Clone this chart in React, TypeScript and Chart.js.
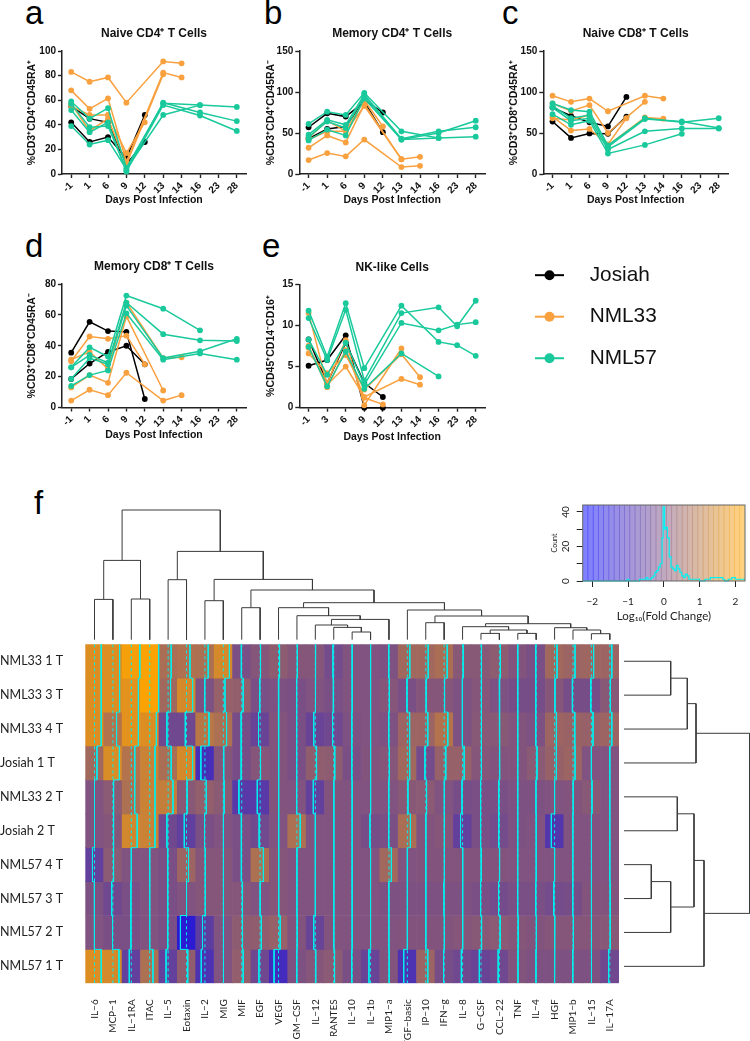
import React, { useEffect, useRef } from "react";
import { Chart, registerables } from "chart.js";

Chart.register(...registerables);
Chart.defaults.font.family = "'Liberation Sans', Arial, sans-serif";

const BLACK = "#000000";
const ORANGE = "#F9A03F";
const GREEN = "#19C99B";
const N = null;

const days = ["-1", "1", "6", "9", "12", "13", "14", "16", "23", "28"];
const daysE = ["-1", "3", "6", "9", "12", "13", "14", "16", "23", "28"];

const aBlack = [[55, 45, 42, 8, 26, N, N, N, N, N], [42, 26, 30, 13, 48, N, N, N, N, N]];
const aOrange = [
  [83, 75, 78.5, 58, N, 91.5, 90, N, N, N],
  [68, 53, 61.5, 10, N, 82.5, 78.5, N, N, N],
  [55, 48, 48, 17, 42, N, N, N, N, N],
  [57, 35, 45, 8, N, 81, N, N, N, N],
];
const aGreen = [
  [59, 45, 53.5, 5, N, 57.5, N, 56, N, 54.5],
  [57, 38, 39, 3, N, 58, N, 50, N, 43],
  [52, 34, 42, 2, N, 56, N, 47.5, N, 35],
  [39, 24, 27.5, 4, N, 48, N, 56, N, N],
];

const bBlack = [[57, 74, 70, 88, 51, N, N, N, N, N], [43, 55, 58, 90, 75, N, N, N, N, N]];
const bOrange = [
  [17, 25.5, 21.5, 42, N, 8.5, 10, N, N, N],
  [32, 47, 38.5, 85, N, 18, 21, N, N, N],
  [42, 52, 52, 90, 58, N, N, N, N, N],
  [44, 65, 52, 83, N, 18, N, N, N, N],
];
const bGreen = [
  [61, 76, 72, 99, N, 52, N, 44, N, 45.5],
  [48, 66, 60, 97, N, 43, N, 52, N, 57],
  [45, 64, 56, 95, N, 42, N, 50, N, 65],
  [41, 54, 47, 92, N, 42, N, 44, N, N],
];

const cBlack = [[64, 44, 49.5, 49, 70, N, N, N, N, N], [81, 71, 63, 58, 94, N, N, N, N, N]];
const cOrange = [
  [95.5, 88, 92, 76.5, N, 95.5, 92, N, N, N],
  [86, 77, 84, 50, N, 88, N, N, N, N],
  [70, 53, 55, 36, 68, N, N, N, N, N],
  [68, 66, 72, 35, N, 69, 67.5, N, N, N],
];
const cGreen = [
  [86, 78, 76, 35, N, 68, N, 63, N, 68],
  [83, 68, 72, 33, N, 67, N, 64, N, 56],
  [81, 65, 68, 30, N, 52, N, 55.5, N, 55.5],
  [73, 60, 65, 25, N, 35.5, N, 49, N, N],
];

const dBlack = [[35.5, 55.5, 49.5, 49, 5.5, N, N, N, N, N], [18.5, 28.5, 36, 40, 28, N, N, N, N, N]];
const dOrange = [
  [4.5, 11.5, 8, 22.5, N, 4.5, 8, N, N, N],
  [13, 21, 16, 59, N, 11, N, N, N, N],
  [30, 46, 44.5, 46.5, 28, N, N, N, N, N],
  [31, 36, 25, 68, N, 32, 32.5, N, N, N],
];
const dGreen = [
  [26, 39, 33, 72.5, N, 64, N, 50, N, N],
  [26, 34, 29, 68, N, 47.5, N, 43.5, N, 43],
  [18.5, 32, 28, 66, N, 32, N, 36.5, N, 44.5],
  [14, 21, 24, 61, N, 31, N, 35, N, 31],
];

const eBlack = [[5.1, 5.8, 8.8, 0, 0, N, N, N, N, N], [8.3, 3, 7.9, 3, 1.3, N, N, N, N, N]];
const eOrange = [
  [11.5, 2.8, 5, 1.3, N, 3.5, 2.8, N, N, N],
  [7.5, 2.5, 7, 1.2, 0.4, N, N, N, N, N],
  [6.6, 4.2, 6.4, 2.2, N, 6.5, 3.7, N, N, N],
  [7.3, 3, 8.2, 0.3, N, 7.2, N, N, N, N],
];
const eGreen = [
  [11.8, 6.2, 12.7, 4.8, N, 12.4, N, 8, 7.6, 6.3],
  [10.9, 5.8, 11.9, 3.3, N, 11.5, N, 12.2, 9.9, 13],
  [8.3, 4, 7.9, 2.8, N, 10.3, N, 9.4, 10.1, 10.4],
  [7.4, 2.6, 6.8, 2.3, N, 6.6, N, 3.8, N, N],
];

const legendNames = ["Josiah", "NML33", "NML57"];

const rowNames = ["NML33 1 T", "NML33 3 T", "NML33 4 T", "Josiah 1 T", "NML33 2 T", "Josiah 2 T", "NML57 4 T", "NML57 3 T", "NML57 2 T", "NML57 1 T"];
const cytokines = ["IL\u22126", "MCP\u22121", "IL\u22121RA", "ITAC", "IL\u22125", "Eotaxin", "IL\u22122", "MIG", "MIF", "EGF", "VEGF", "GM\u2212CSF", "IL\u221212", "RANTES", "IL\u221210", "IL\u22121b", "MIP1\u2212a", "FGF\u2212basic", "IP\u221210", "IFN\u2212g", "IL\u22128", "G\u2212CSF", "CCL\u221222", "TNF", "IL\u22124", "HGF", "MIP1\u2212b", "IL\u221215", "IL\u221217A"];

const foldChange = [
  [1.65, 1.65, 2.1, 2.2, 0.75, 0.85, 0.8, 1.5, -0.1, 0.1, 0.25, 0.1, 0.1, -0.2, 0, 0, -0.05, 0.6, 0.6, 0.75, 0.15, 0.15, 0.25, 0.05, -0.1, 0.6, 0.5, 0.55, 0.5],
  [1.65, 1.65, 1.75, 2.2, 0.6, 1.5, -0.05, 0.4, 0.35, -0.1, -0.05, -0.1, 0, -0.1, 0, 0, 0.1, -0.1, 0.1, 0.1, -0.05, 0.1, -0.05, -0.15, -0.15, 0.1, -0.15, -0.15, 0.15],
  [1.65, 0.9, 1.75, 1.65, -0.3, -0.3, 1, 0.8, -0.15, -0.4, 0.05, -0.1, -0.4, -0.3, -0.05, 0, -0.05, 0.5, 0.5, 0.9, -0.05, 0.15, 0.15, 0.05, -0.05, 0.5, 0.45, 0.4, 0.5],
  [0.6, 1.6, 0.9, 1.3, 0.75, 1.5, -1, 0.1, -0.15, 0.1, 0.05, -0.1, 0.3, 0.25, -0.1, 0.05, 0.1, 0.6, -0.2, 0.4, 0.4, 0.1, 0.05, 0.05, 0.2, 0.4, 0.5, 0, 0],
  [0, 0.2, 0.8, 1.3, 1.2, 0.15, 0.35, 0.2, -0.7, -0.7, 0.05, 0, -0.5, 0.05, 0, 0, 0, 0.15, 0.2, 0, -0.15, -0.1, -0.1, -0.05, -0.05, 0, 0.05, 0.15, 0],
  [0, 0.1, 1.45, 1.3, -0.3, -0.55, -0.1, 0, -0.1, -0.25, 0, 0.8, 0, 0, 0, -0.15, -0.1, 0.75, 0.05, 0.1, -0.5, -0.1, -0.2, -0.05, 0, -0.8, 0, 0, 0],
  [-0.5, 0.2, 0, 0, -0.1, 0.5, 0.1, 0.1, -0.1, 0.8, 0.1, 0, 0, 0, 0, 0, 0.6, 0, 0.05, 0.05, 0.05, 0.05, 0.05, 0, 0, 0, 0, 0, 0],
  [-0.05, -0.3, -0.1, 0, -0.1, 0, 0.1, 0.1, 0.1, 0, 0.1, 0, 0, 0, 0, 0, -0.05, -0.05, -0.05, -0.05, -0.05, -0.1, -0.2, -0.1, -0.1, -0.2, -0.15, 0.05, 0.05],
  [0, -0.1, -0.1, 0, -0.1, -1.5, -0.6, 0, 0.25, 0.3, 0.4, 0.05, -0.4, 0.05, 0, 0, 0, 0.05, 0.05, 0.05, 0.1, 0.15, 0.2, 0.1, 0.05, 0.1, 0.1, 0.1, 0.15],
  [1.65, 1.5, -0.5, 0.8, -0.5, 0.3, -0.9, 0, 0.35, -0.3, -1.1, -0.05, 0.1, 0.2, -0.1, -0.4, 0.05, -0.9, 0.5, -0.15, -0.3, -0.4, -0.3, 0.05, -0.05, -0.05, -0.05, -0.05, -0.3],
];

// dendrograms: [left, right, height]; >= 0 is a leaf, -k is the k-th merge
const columnMerges = [
  [0, 1, 40.3], [2, 3, 40.7], [-1, -2, 79.3], [4, 5, 60], [6, 7, 39], [8, 9, 32], [14, 15, 7.7],
  [13, -7, 12.3], [12, -8, 14.7], [-9, 16, 20.3], [11, -10, 24], [10, -11, 32], [18, 19, 17],
  [21, 22, 6.3], [23, 24, 6.3], [-14, -15, 9.7], [20, -16, 13], [27, 28, 6], [26, -18, 9.7],
  [25, -19, 12], [-17, -20, 16], [-13, -21, 23.7], [17, -22, 29.7], [-12, -23, 37], [-6, -24, 49.7],
  [-5, -25, 60.3], [-4, -26, 88.3], [-3, -27, 129.7],
];
const rowMerges = [
  [0, 1, 46.7], [-1, 2, 63.3], [-2, 3, 72], [4, 5, 53.3], [6, 7, 27.3], [-5, 8, 46.7],
  [-4, -6, 70], [-7, 9, 80], [-3, -8, 125.7],
];

const keyLevels = [-2.25, -2.1, -1.95, -1.8, -1.65, -1.5, -1.35, -1.2, -1.05, -0.9, -0.75, -0.6, -0.45, -0.3, -0.15, 0, 0.15, 0.3, 0.45, 0.6, 0.75, 0.9, 1.05, 1.2, 1.35, 1.5, 1.65, 1.8, 1.95, 2.1, 2.25];
const histEdges = [-2.27, -1.03, -0.98, -0.68, -0.55, -0.5, -0.45, -0.35, -0.3, -0.25, -0.2, -0.15, -0.1, -0.05, -0.02, 0.02, 0.05, 0.1, 0.15, 0.2, 0.25, 0.3, 0.35, 0.4, 0.45, 0.5, 0.55, 0.6, 0.65, 0.7, 0.75, 0.85, 1, 1.15, 1.3, 1.35, 1.65, 1.7, 1.8, 1.9, 2, 2.1, 2.27];
const histCounts = [0, 1, 0, 1, 1, 2, 1, 2, 3, 5, 6, 8, 10, 25, 43, 30, 31, 25, 14, 8, 7, 6, 9, 7, 5, 3, 2, 4, 3, 1, 1, 1, 0, 1, 2, 2, 1, 0, 1, 2, 1, 1, 1];

const KEY_MAX = 2.27;
function ramp(v: number, alpha = 1) {
  const t = Math.max(0, Math.min(1, (v + KEY_MAX) / (2 * KEY_MAX)));
  return `rgba(${Math.round(255 * t)},${Math.round(165 * t)},${Math.round(255 * (1 - t))},${alpha})`;
}

function dendroSegments(merges: number[][], leafPos: (i: number) => number) {
  const pos: { p: number; h: number }[] = [];
  const at = (id: number) => (id >= 0 ? { p: leafPos(id), h: 0 } : pos[-id - 1]);
  return merges.map(([l, r, h]) => {
    const a = at(l), b = at(r);
    pos.push({ p: (a.p + b.p) / 2, h });
    return [[a.p, a.h], [a.p, h], [b.p, h], [b.p, b.h]];
  });
}

const noPad = (s: any) => { s.paddingLeft = 0; s.paddingRight = 0; s.paddingTop = 0; s.paddingBottom = 0; };

const baseOptions: any = {
  animation: false,
  responsive: false,
  events: [],
  plugins: { legend: { display: false }, tooltip: { enabled: false }, title: { display: false } },
};

function panelConfig(p: any) {
  const sw = p.l - p.left;
  const mk = (rows: any[], color: string) =>
    rows.map((data: any) => ({
      data, borderColor: color, backgroundColor: color, borderWidth: 1.5, pointRadius: 2.9,
      pointBorderWidth: 0, spanGaps: true, clip: false, tension: 0,
    }));
  return {
    type: "line",
    data: { labels: p.days, datasets: [...mk(p.green, GREEN), ...mk(p.orange, ORANGE), ...mk(p.black, BLACK)] },
    options: {
      ...baseOptions,
      layout: { autoPadding: false, padding: { top: p.padTop, right: 4, left: 0, bottom: 0 } },
      plugins: {
        ...baseOptions.plugins,
        title: { display: true, text: p.title, fullSize: false, color: "#111", font: { size: 12, weight: "bold" }, padding: { top: 0, bottom: 9.8 } },
      },
      scales: {
        x: {
          offset: true,
          grid: { display: true, drawOnChartArea: false, drawTicks: true, tickLength: 4, tickColor: "#222", tickWidth: 1.4 },
          border: { display: true, color: "#222", width: 1.5 },
          ticks: { autoSkip: false, minRotation: 45, maxRotation: 45, padding: 2, color: "#111", font: { size: 10, weight: "bold" } },
          title: { display: true, text: "Days Post Infection", color: "#111", font: { size: 10.5, weight: "bold" }, padding: 0 },
          afterFit: (s: any) => { s.height = p.xh; noPad(s); },
        },
        y: {
          min: 0, max: p.yMax,
          grid: { display: true, drawOnChartArea: false, drawTicks: true, tickLength: 4, tickColor: "#222", tickWidth: 1.4 },
          border: { display: true, color: "#222", width: 1.5 },
          ticks: { stepSize: p.yStep, padding: 2, color: "#111", font: { size: 10, weight: "bold" } },
          title: { display: true, text: p.yTitle, color: "#111", font: { size: 10.5, weight: "bold" }, padding: 0 },
          afterFit: (s: any) => { s.width = sw; noPad(s); },
        },
      },
    },
  };
}

function dendroConfig(segments: number[][][], flip: boolean, xr: any, yr: any, padding: any) {
  return {
    type: "line",
    data: {
      datasets: segments.map((seg) => ({
        data: seg.map(([p, h]) => (flip ? { x: h, y: p } : { x: p, y: h })),
        borderColor: "#3a3a3a", borderWidth: 1, pointRadius: 0, clip: false, tension: 0,
      })),
    },
    options: {
      ...baseOptions,
      layout: { autoPadding: false, padding },
      scales: {
        x: { type: "linear", display: false, ...xr },
        y: { type: "linear", display: false, ...yr },
      },
    },
  };
}

const heatTop = 644.3, heatBottom = 983.3, heatLeft = 85.3, heatRight = 619;
const heatPadTop = heatTop - 640, heatPadRight = 625 - heatRight, heatAxisH = 401 - (heatBottom - 640);

function heatConfig() {
  const cells = foldChange.map((row) => ({
    data: row.map(() => 1), backgroundColor: row.map((v) => ramp(v)),
    barPercentage: 1, categoryPercentage: 1, borderWidth: 0,
  }));
  return {
    type: "bar",
    data: { labels: cytokines, datasets: cells },
    options: {
      ...baseOptions,
      layout: { autoPadding: false, padding: { top: heatPadTop, right: heatPadRight, left: 0, bottom: 0 } },
      scales: {
        x: {
          stacked: true, position: "bottom", offset: true,
          grid: { display: false }, border: { display: false },
          ticks: { autoSkip: false, minRotation: 90, maxRotation: 90, padding: 8, color: "#222", font: { family: "Lato", size: 10 } },
          afterFit: (s: any) => { s.height = heatAxisH; noPad(s); },
        },
        y: { stacked: true, reverse: true, min: 0, max: foldChange.length, display: false },
        yl: {
          type: "linear", position: "left", min: 0, max: rowNames.length, reverse: true,
          afterBuildTicks: (s: any) => { s.ticks = rowNames.map((_, i) => ({ value: i + 0.5 })); },
          grid: { display: false }, border: { display: false },
          ticks: { autoSkip: false, crossAlign: "far", color: "#222", font: { family: "Lato", size: 12.5 }, callback: (v: any) => rowNames[Math.floor(v)] },
          afterFit: (s: any) => { s.width = heatLeft; noPad(s); },
        },
      },
    },
  };
}

function traceConfig() {
  const vlines = cytokines.map((_, c) => ({
    data: [{ x: c + 0.5, y: 0 }, { x: c + 0.5, y: foldChange.length }],
    borderColor: "#00F0F0", borderWidth: 1, borderDash: [3, 3], pointRadius: 0,
  }));
  const traces = cytokines.map((_, c) => ({
    data: foldChange.flatMap((row, r) => {
      const x = c + 0.5 + (row[c] / KEY_MAX) * 0.5;
      return [{ x, y: r }, { x, y: r + 1 }];
    }),
    borderColor: "#00F0F0", borderWidth: 1, pointRadius: 0, tension: 0,
  }));
  return {
    type: "line",
    data: { datasets: [...traces, ...vlines] },
    options: {
      ...baseOptions,
      layout: { autoPadding: false, padding: { top: heatPadTop, right: heatPadRight, left: heatLeft, bottom: heatAxisH } },
      scales: {
        x: { type: "linear", min: 0, max: cytokines.length, display: false },
        y: { type: "linear", reverse: true, min: 0, max: foldChange.length, display: false },
      },
    },
  };
}

const framePlugin = {
  id: "frame",
  afterDraw(chart: any) {
    const { ctx, chartArea: a } = chart;
    ctx.save();
    ctx.strokeStyle = "#666";
    ctx.lineWidth = 1;
    ctx.strokeRect(a.left, a.top, a.right - a.left, a.bottom - a.top);
    ctx.restore();
  },
};

const histLeftW = 582.7 - 540;

function keyConfig() {
  return {
    type: "bar",
    data: {
      labels: keyLevels.map(String),
      datasets: [{ data: keyLevels.map(() => 44), backgroundColor: keyLevels.map((v) => ramp(v, 0.5)), barPercentage: 1, categoryPercentage: 1 }],
    },
    options: {
      ...baseOptions,
      layout: { autoPadding: false, padding: { top: 5, right: 5, left: histLeftW, bottom: 44 } },
      scales: {
        x: { type: "category", display: false, offset: true },
        y: { min: 0, max: 44, display: false },
      },
    },
  };
}

function histConfig() {
  return {
    type: "line",
    data: {
      datasets: [{
        data: histEdges.map((x, i) => ({ x, y: histCounts[i] })),
        borderColor: "#00F2F2", borderWidth: 1.2, pointRadius: 0, stepped: true, clip: false,
      }],
    },
    plugins: [framePlugin],
    options: {
      ...baseOptions,
      layout: { autoPadding: false, padding: { top: 5, right: 5, left: 0, bottom: 0 } },
      scales: {
        x: {
          type: "linear", min: -KEY_MAX, max: KEY_MAX, position: "bottom", offset: false,
          afterBuildTicks: (s: any) => { s.ticks = [-2, -1, 0, 1, 2].map((value) => ({ value })); },
          grid: { display: true, offset: false, drawOnChartArea: false, tickLength: 6, tickColor: "#222" },
          border: { display: false },
          ticks: { padding: 8.7, color: "#222", font: { family: "Lato", size: 10 }, callback: (v: any) => String(v).replace("-", "\u2212") },
          title: { display: true, text: "Log\u2081\u2080(Fold Change)", color: "#222", font: { family: "Lato", size: 11.5 }, padding: 1.4 },
          afterFit: (s: any) => { s.height = 44; noPad(s); },
        },
        y: {
          min: 0, max: 44, position: "left",
          afterBuildTicks: (s: any) => { s.ticks = [0, 10, 20, 30, 40].map((value) => ({ value })); },
          grid: { display: true, drawOnChartArea: false, tickLength: 6, tickColor: "#222" },
          border: { display: false },
          ticks: { minRotation: 90, maxRotation: 90, crossAlign: "center", padding: 5, color: "#222", font: { family: "Lato", size: 10 }, callback: (v: any) => (v % 20 === 0 ? String(v) : "") },
          title: { display: true, text: "Count", color: "#222", font: { family: "Lato", size: 7 }, padding: 10.8 },
          afterFit: (s: any) => { s.width = histLeftW; noPad(s); },
        },
      },
    },
  };
}

function legendConfig() {
  const colors = [BLACK, ORANGE, GREEN];
  return {
    type: "line",
    data: {
      datasets: legendNames.map((_, i) => ({
        data: [{ x: 0, y: i }, { x: 1, y: i }, { x: 2, y: i }],
        borderColor: colors[i], backgroundColor: colors[i], borderWidth: 2, pointBorderWidth: 0, pointRadius: [0, 5, 0], clip: false,
      })),
    },
    options: {
      ...baseOptions,
      layout: { autoPadding: false, padding: { left: 10, right: 0, top: 0.4, bottom: 0 } },
      scales: {
        x: { type: "linear", min: 0, max: 2, display: false },
        y: {
          type: "linear", position: "right", min: -0.5, max: 2.5, reverse: true,
          afterBuildTicks: (s: any) => { s.ticks = legendNames.map((_, i) => ({ value: i })); },
          grid: { display: false }, border: { display: false },
          ticks: { autoSkip: false, padding: 17.7, color: "#111", font: { size: 20.8 }, callback: (v: any) => legendNames[v] },
          afterFit: (s: any) => { s.width = 750 - 564; noPad(s); },
        },
      },
    },
  };
}

function Plot({ config, left, top, width, height }: any) {
  const ref = useRef<HTMLCanvasElement>(null);
  useEffect(() => {
    const chart = new Chart(ref.current as any, config());
    return () => chart.destroy();
  }, []);
  return <canvas ref={ref} width={width} height={height} style={{ position: "absolute", left, top, width, height, display: "block" }} />;
}

const panels = [
  { key: "a", title: "Naive CD4\u207A T Cells", yTitle: "%CD3\u207ACD4\u207ACD45RA\u207A", yMax: 100, yStep: 20, days, black: aBlack, orange: aOrange, green: aGreen, l: 62, t: 51, r: 246, b: 174, left: 26, xh: 32 },
  { key: "b", title: "Memory CD4\u207A T Cells", yTitle: "%CD3\u207ACD4\u207ACD45RA\u207B", yMax: 150, yStep: 50, days, black: bBlack, orange: bOrange, green: bGreen, l: 299.3, t: 51, r: 485, b: 174, left: 265, xh: 32 },
  { key: "c", title: "Naive CD8\u207A T Cells", yTitle: "%CD3\u207ACD8\u207ACD45RA\u207A", yMax: 150, yStep: 50, days, black: cBlack, orange: cOrange, green: cGreen, l: 543.3, t: 51, r: 727.7, b: 174, left: 508, xh: 32 },
  { key: "d", title: "Memory CD8\u207A T Cells", yTitle: "%CD3\u207ACD8\u207ACD45RA\u207B", yMax: 80, yStep: 20, days, black: dBlack, orange: dOrange, green: dGreen, l: 62, t: 284, r: 246, b: 407.5, left: 26, xh: 33 },
  { key: "e", title: "NK-like Cells", yTitle: "%CD45\u207ACD14\u207BCD16\u207A", yMax: 15, yStep: 5, days: daysE, black: eBlack, orange: eOrange, green: eGreen, l: 299.3, t: 284.3, r: 485, b: 407.7, left: 265, xh: 35 },
];

const letters = [
  { s: "a", x: 25, base: 24 },
  { s: "b", x: 264, base: 24 },
  { s: "c", x: 502, base: 24 },
  { s: "d", x: 25, base: 257 },
  { s: "e", x: 262, base: 257 },
  { s: "f", x: 34, base: 514 },
];

export default function App() {
  return (
    <div style={{ position: "absolute", left: 0, top: 0, width: 750, height: 1041, overflow: "hidden", background: "#fff" }}>
      {letters.map((k) => (
        <div key={k.s} style={{ position: "absolute", left: k.x, top: k.base - 28, fontFamily: "'Liberation Sans'", fontSize: 33, lineHeight: 1, color: "#000" }}>{k.s}</div>
      ))}
      {panels.map((p) => {
        const cTop = Math.floor(p.t - 27);
        const padTop = p.t - cTop - 24.2;
        const width = Math.ceil(p.r + 4 - p.left);
        const height = Math.ceil(p.b - cTop + p.xh);
        return (
          <Plot key={p.key} left={p.left} top={cTop} width={width} height={height}
            config={() => panelConfig({ ...p, padTop, xh: height - (p.b - cTop) })} />
        );
      })}
      <Plot left={525} top={254} width={225} height={125} config={legendConfig} />
      <Plot left={85} top={505} width={540} height={135}
        config={() => dendroConfig(dendroSegments(columnMerges, (i) => i + 0.5), false,
          { min: 0, max: cytokines.length }, { min: 0, max: 132 },
          { left: 0.3, right: 625 - 85 - 534, top: 2.7, bottom: 0.3 })} />
      <Plot left={0} top={640} width={625} height={401} config={heatConfig} />
      <Plot left={0} top={640} width={625} height={401} config={traceConfig} />
      <Plot left={624} top={640} width={126} height={348}
        config={() => dendroConfig(dendroSegments(rowMerges, (i) => i + 0.5), true,
          { min: 0, max: 126 }, { min: 0, max: 10, reverse: true },
          { left: 0, right: 0, top: 4.3, bottom: 4.7 })} />
      <Plot left={540} top={500} width={210} height={125} config={keyConfig} />
      <Plot left={540} top={500} width={210} height={125} config={histConfig} />
    </div>
  );
}
